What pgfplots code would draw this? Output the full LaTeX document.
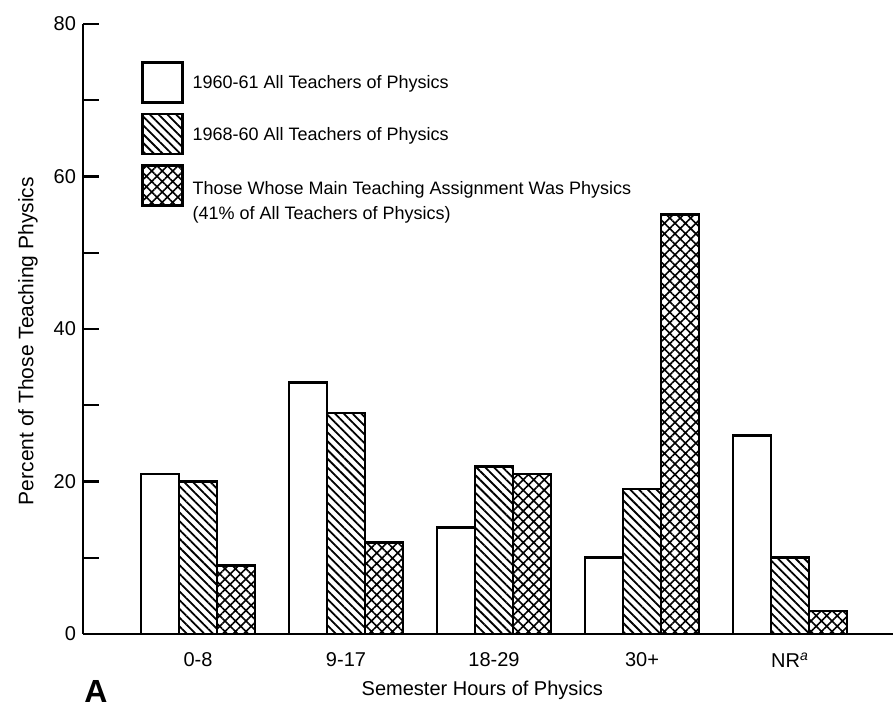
\documentclass[border=0pt]{standalone}
\usepackage{pgfplots}
\pgfplotsset{compat=1.18}
\usetikzlibrary{patterns.meta}
\usepackage{fontspec}
\setmainfont{Liberation Sans}

\begin{document}
\begin{tikzpicture}
\begin{axis}[
    scale only axis,
    width=405pt, height=305pt,
    xmin=-0.777, xmax=4.696,
    ymin=0, ymax=80,
    axis lines=left,
    axis line style={-, line width=1.3pt},
    ybar,
    bar width=19pt,
    xtick={0,1,2,3,4},
    xticklabels={0-8,9-17,18-29,30+,NR\textsuperscript{\itshape a}},
    major x tick style={draw=none},
    ytick={0,20,40,60,80},
    minor ytick={10,30,50,70},
    tick align=inside,
    major tick length=8pt, minor tick length=8pt,
    every tick/.style={line width=1.2pt, black},
    ticklabel style={font=\fontsize{10}{12}\selectfont},
    /pgf/number format/assume math mode=true,
    xticklabel style={yshift=-6pt},
    xlabel={Semester Hours of Physics},
    ylabel={Percent of Those Teaching Physics},
    label style={font=\fontsize{10}{12}\selectfont},
    xlabel style={at={(axis description cs:0.493,0)}, anchor=center, yshift=-28pt},
    ylabel style={at={(axis description cs:-0.068,0.48)}, anchor=center, font=\fontsize{10.5}{12}\selectfont},
    legend style={draw=none, fill=none, at={(axis description cs:0.0716,0.939)},
        anchor=north west, inner sep=0pt, outer sep=0pt,
        row sep=4.5pt, column sep=4.5pt,
        nodes={inner sep=0pt},
        font=\fontsize{9}{12.5}\selectfont},
    legend cell align=left,
    legend image code/.code={\draw[#1, line width=1.3pt] (0pt,-9.3pt) rectangle (20pt,10.7pt);},
]
\addplot[draw=black, line width=1.3pt, fill=white, bar shift=-19pt]
    coordinates {(0,21) (1,33) (2,14) (3,10) (4,26)};
\addplot[draw=black, line width=1.3pt, bar shift=0pt,
    pattern={Lines[angle=-45,distance=3.1pt,line width=0.9pt]}]
    coordinates {(0,20) (1,29) (2,22) (3,19) (4,10)};
\addplot[draw=black, line width=1.3pt, bar shift=19pt,
    pattern={Hatch[angle=45,distance=3.7pt,line width=0.8pt]}]
    coordinates {(0,9) (1,12) (2,21) (3,55) (4,3)};
\addlegendentry{1960-61 All Teachers of Physics}
\addlegendentry{1968-60 All Teachers of Physics}
\addlegendentry{\begin{tabular}[t]{@{}l@{}}Those Whose Main Teaching Assignment Was Physics\\(41\% of All Teachers of Physics)\end{tabular}}
\coordinate (apos) at (axis description cs:0.016,-0.095);
\coordinate (bl) at (axis description cs:-0.1025,-0.1246);
\coordinate (tr) at (axis description cs:1.0,1.0393);
\end{axis}
\node[font=\bfseries\fontsize{16}{16}\selectfont] at (apos) {A};
\pgfresetboundingbox
\useasboundingbox (bl) rectangle (tr);
\end{tikzpicture}
\end{document}
